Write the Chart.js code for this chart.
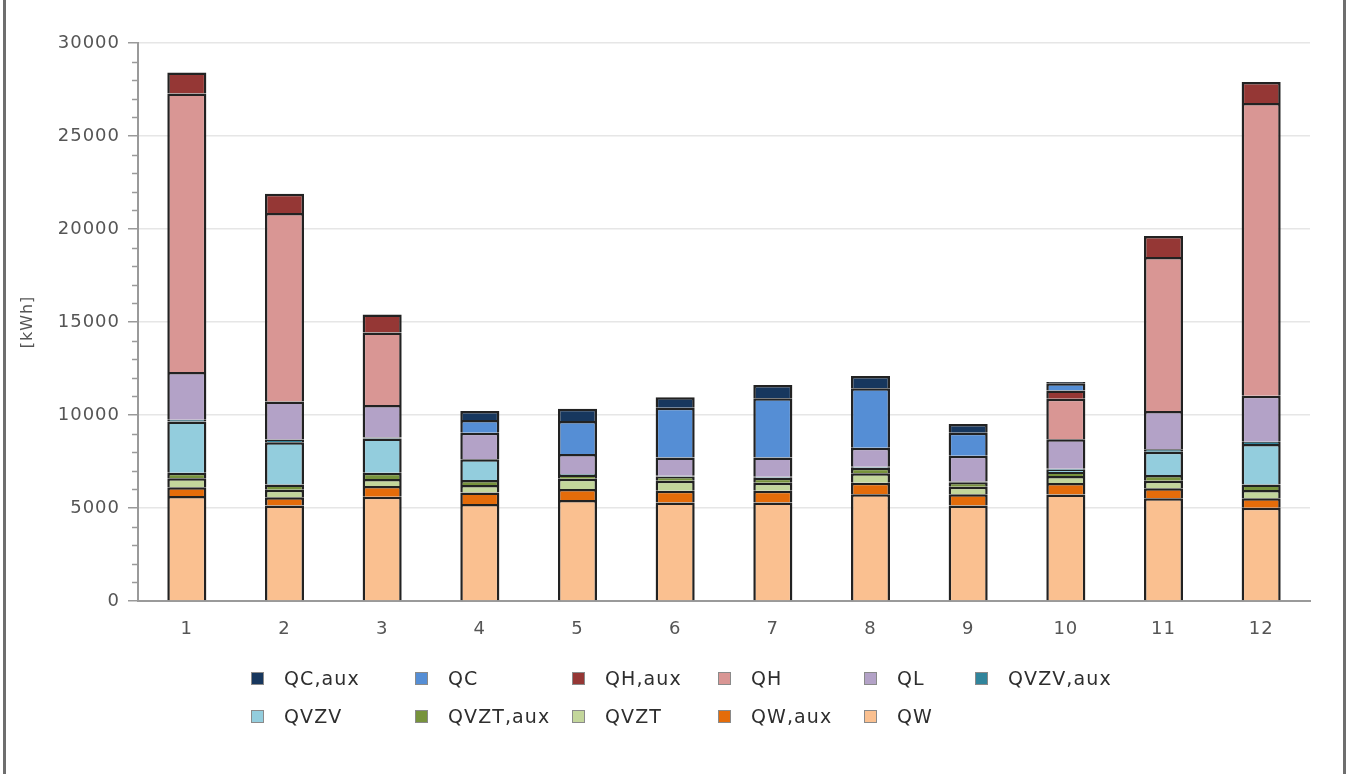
<!DOCTYPE html>
<html>
<head>
<meta charset="utf-8">
<title>Monthly energy demand</title>
<script src="https://cdn.jsdelivr.net/npm/chart.js@4.4.1/dist/chart.umd.min.js"></script>
<style>
  html, body { margin: 0; padding: 0; background: #fff; }
  body { width: 1347px; height: 774px; position: relative; overflow: hidden; font-family: "DejaVu Sans", sans-serif; }
  .frame { position: absolute; top: 0; bottom: 0; width: 3px; background: #6e6e6e; }
  #chartBox { position: absolute; left: 0; top: 0; width: 1347px; height: 774px; }
  #legend {
    position: absolute; left: 251px; top: 666px;
    display: grid; grid-template-columns: 164px 157px 146px 146px 111px 150px; row-gap: 14px;
  }
  .item { display: flex; align-items: center; height: 24px; font-size: 19px; letter-spacing: 1.1px; color: #2e2e2e; white-space: nowrap; }
  .swatch { width: 11px; height: 11px; border: 1px solid #8a8a8a; margin-right: 20px; flex: none; }
</style>
</head>
<body>
<div class="frame" style="left: 3px"></div>
<div class="frame" style="left: 1343px"></div>
<div id="chartBox"><canvas id="energyChart"></canvas></div>
<div id="legend"></div>

<script>
// Monthly energy demand per component, kWh
const months = ["1", "2", "3", "4", "5", "6", "7", "8", "9", "10", "11", "12"];

const qW      = [5650, 5130, 5610, 5220, 5430, 5290, 5290, 5740, 5130, 5720, 5520, 5020];
const qWaux   = [460, 450, 570, 620, 590, 640, 640, 620, 605, 625, 540, 500];
const qVZT    = [490, 400, 380, 400, 555, 540, 430, 505, 410, 375, 410, 450];
const qVZTaux = [300, 290, 340, 265, 195, 220, 270, 305, 235, 215, 305, 300];
const qVZV    = [2750, 2260, 1830, 1115, 60, 50, 50, 50, 40, 120, 1255, 2170];
const qVZVaux = [100, 150, 60, 0, 0, 0, 0, 0, 0, 60, 125, 125];
const qL      = [2560, 2040, 1750, 1430, 1070, 980, 1040, 1025, 1395, 1585, 2060, 2475];
const qH      = [14970, 10140, 3890, 0, 0, 0, 0, 0, 0, 2180, 8280, 15730];
const qHaux   = [1130, 1040, 970, 0, 0, 0, 0, 0, 0, 440, 1125, 1130];
const qC      = [0, 0, 0, 680, 1780, 2670, 3180, 3190, 1235, 390, 0, 0];
const qCaux   = [0, 0, 0, 490, 650, 560, 710, 665, 465, 60, 0, 0];

const yTicks = [0, 5000, 10000, 15000, 20000, 25000, 30000];

// stacked bottom to top
const series = [
  { label: "QW",        data: qW,      color: "#fac090" },
  { label: "QW,aux",    data: qWaux,   color: "#e46c0a" },
  { label: "QVZT",      data: qVZT,    color: "#c3d69b" },
  { label: "QVZT,aux",  data: qVZTaux, color: "#77933c" },
  { label: "QVZV",      data: qVZV,    color: "#93cddd" },
  { label: "QVZV,aux",  data: qVZVaux, color: "#31859c" },
  { label: "QL",        data: qL,      color: "#b3a2c7" },
  { label: "QH",        data: qH,      color: "#d99694" },
  { label: "QH,aux",    data: qHaux,   color: "#953735" },
  { label: "QC",        data: qC,      color: "#558ed5" },
  { label: "QC,aux",    data: qCaux,   color: "#17375e" },
];

// wider glyph spacing on canvas text
const spacing = {
  id: "spacing",
  beforeUpdate(chart) { chart.ctx.letterSpacing = "1px"; },
  beforeDraw(chart) { chart.ctx.letterSpacing = "1px"; },
};

// short tick marks every 1000 between the labelled ones
const minorTicks = {
  id: "minorTicks",
  afterDraw(chart) {
    const y = chart.scales.y;
    const ctx = chart.ctx;
    ctx.save();
    ctx.strokeStyle = "#9a9a9a";
    ctx.lineWidth = 1.5;
    for (let v = 1000; v < yTicks[yTicks.length - 1]; v += 1000) {
      if (yTicks.includes(v)) continue;
      const py = Math.round(y.getPixelForValue(v)) + 0.5;
      ctx.beginPath();
      ctx.moveTo(y.right - 6, py);
      ctx.lineTo(y.right, py);
      ctx.stroke();
    }
    ctx.restore();
  },
};

const chart = new Chart(document.getElementById("energyChart"), {
  type: "bar",
  data: {
    labels: months,
    datasets: series.map((s) => ({
      label: s.label,
      data: s.data,
      backgroundColor: s.color,
      borderColor: "#222",
      borderWidth: 2.5,
      barPercentage: 0.4,
      categoryPercentage: 1.0,
    })),
  },
  options: {
    responsive: true,
    maintainAspectRatio: false,
    animation: false,
    layout: { padding: { left: 0, right: 37, top: 43, bottom: 128 } },
    plugins: {
      legend: { display: false },
      tooltip: { enabled: false },
    },
    scales: {
      x: {
        stacked: true,
        grid: { display: false, drawTicks: false },
        border: { display: true, color: "#9a9a9a", width: 2 },
        ticks: { color: "#555", font: { family: "DejaVu Sans", size: 18 }, padding: 18 },
        afterFit: (scale) => { scale.height = 45; },
      },
      y: {
        stacked: true,
        min: 0,
        max: 30000,
        afterBuildTicks: (scale) => { scale.ticks = yTicks.map((v) => ({ value: v })); },
        grid: { color: "#e6e6e6", lineWidth: 1.5, tickColor: "#9a9a9a", tickLength: 10 },
        border: { display: true, color: "#9a9a9a", width: 2 },
        ticks: {
          color: "#555",
          font: { family: "DejaVu Sans", size: 18 },
          padding: 8,
          callback: (v) => String(v),
        },
        title: {
          display: true,
          text: "[kWh]",
          color: "#555",
          font: { family: "DejaVu Sans", size: 16 },
          padding: { top: 18, bottom: 0 },
        },
        afterFit: (scale) => { scale.width = 138; },
      },
    },
  },
  plugins: [spacing, minorTicks],
});

// legend grid, top of stack first
const legendBox = document.getElementById("legend");
chart.data.datasets.slice().reverse().forEach((ds) => {
  const item = document.createElement("div");
  item.className = "item";
  const sw = document.createElement("span");
  sw.className = "swatch";
  sw.style.background = ds.backgroundColor;
  item.appendChild(sw);
  item.appendChild(document.createTextNode(ds.label));
  legendBox.appendChild(item);
});
</script>
</body>
</html>
